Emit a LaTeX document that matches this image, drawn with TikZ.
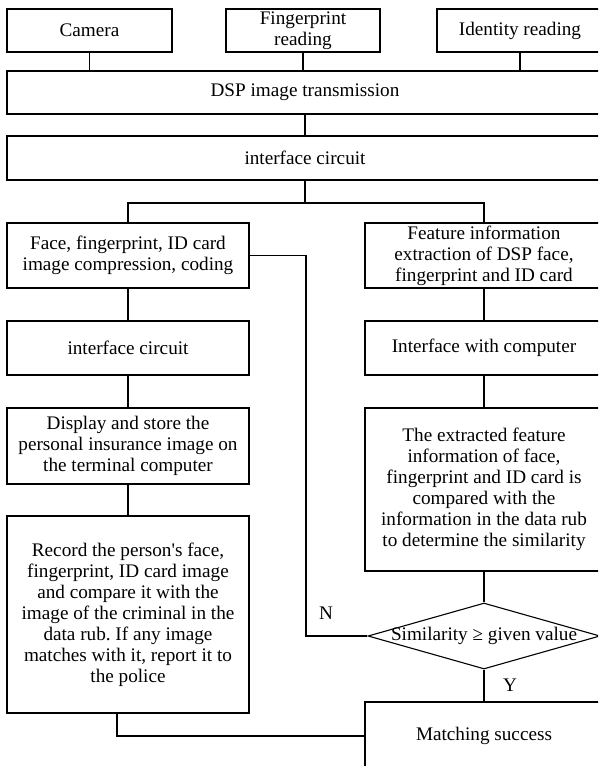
\documentclass[tikz,border=0pt]{standalone}
\usepackage{fontspec}
\setmainfont{Liberation Serif}[Ligatures=TeXOff]
\usepackage{tikz}
\usetikzlibrary{shapes.geometric}

\tikzset{
    box/.style={draw, line width=1.1pt, align=center, inner sep=0pt, font=\fontsize{19.2}{21}\selectfont},
    decision/.style={draw, diamond, line width=1.1pt, inner sep=0pt, minimum width=232, minimum height=66},
    link/.style={line width=1.1pt},
    tag/.style={font=\fontsize{19.2}{21}\selectfont, inner sep=0pt}
}
\frenchspacing

\begin{document}
\begin{tikzpicture}[x=1pt, y=-1pt]
    \useasboundingbox (0,0) rectangle (598,766);
    \clip (0,0) rectangle (598,766);

    % Inputs
    \node[box, minimum width=165, minimum height=43] (cam) at (89.5,30.5) {Camera};
    \node[box, minimum width=154, minimum height=43] (fp) at (303,30.5) {Fingerprint\\reading};
    \node[box, minimum width=166, minimum height=43] (idr) at (520,30.5) {Identity reading};

    % Common stages
    \node[box, minimum width=596, minimum height=43] (dsp) at (305,92.5) {DSP image transmission};
    \node[box, minimum width=596, minimum height=44] (ifc) at (305,158) {interface circuit};

    % Left column
    \node[box, minimum width=242, minimum height=65] (comp) at (128,255.5) {Face, fingerprint, ID card\\image compression, coding};
    \node[box, minimum width=242, minimum height=54] (ifl) at (128,348) {interface circuit};
    \node[box, minimum width=242, minimum height=76] (disp) at (128,446) {Display and store the\\personal insurance image on\\the terminal computer};
    \node[box, minimum width=242, minimum height=197] (rec) at (128,614.5) {Record the person's face,\\fingerprint, ID card image\\and compare it with the\\image of the criminal in the\\data rub. If any image\\matches with it, report it to\\the police};

    % Right column
    \node[box, minimum width=238, minimum height=65] (feat) at (484,255.5) {Feature information\\extraction of DSP face,\\fingerprint and ID card};
    \node[box, minimum width=238, minimum height=54] (ifr) at (484,348) {Interface with computer};
    \node[box, minimum width=238, minimum height=163] (cmpr) at (484,489.5) {The extracted feature\\information of face,\\fingerprint and ID card is\\compared with the\\information in the data rub\\to determine the similarity};
    \node[decision, label={[tag]center:Similarity ≥ given value}] (sim) at (484,636) {};
    \node[box, minimum width=238, minimum height=68] (match) at (484,736) {Matching success};

    % Branch labels
    \node[tag] (nlab) at (326,613) {N};
    \node[tag] (ylab) at (510,685) {Y};

    % Connectors
    \foreach \s in {cam, fp, idr} {
        \draw[link] (\s.south) -- (\s.south |- dsp.north);
    }
    \draw[link] (dsp.south) -- (ifc.north);
    \coordinate (br) at (305,203);
    \draw[link] (ifc.south) -- (br);
    \draw[link] (comp.north) |- (br) -| (feat.north);
    \draw[link] (comp.south) -- (ifl.north);
    \draw[link] (ifl.south) -- (disp.north);
    \draw[link] (disp.south) -- (rec.north);
    \draw[link] (feat.south) -- (ifr.north);
    \draw[link] (ifr.south) -- (cmpr.north);
    \draw[link] (cmpr.south) -- (sim.north);
    \draw[link] (sim.south) -- (match.north);
    \coordinate (nturn) at (306,255.5);
    \draw[link] (comp.east) -- (nturn) |- (sim.west);
    \draw[link] ([xshift=-11pt]rec.south) |- (match.west);
\end{tikzpicture}
\end{document}
